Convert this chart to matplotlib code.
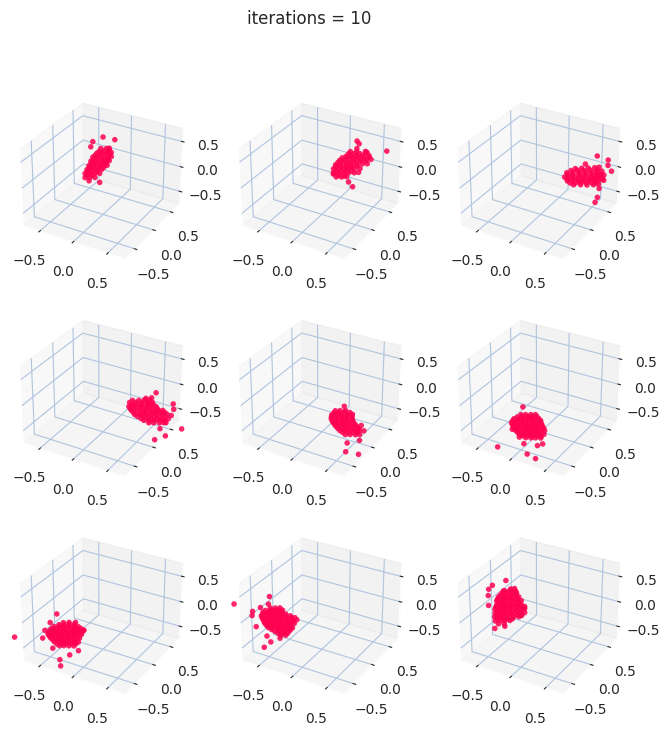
import matplotlib
matplotlib.use('Agg')
import matplotlib.pyplot as plt

# point clouds, one row per line, outliers last
# the depth along y can't be read from a flat picture so it stays at y_depth
x1 = [-.27, -.20, -.12,
      -.27, -.20, -.12, -.05,
      -.24, -.17, -.09, -.02,
      -.21, -.14, -.06, .02, .06,
      -.18, -.11, -.03, .05, .09,
      -.15, -.08, 0, .08, .12,
      -.09, -.02, .06, .12,
      -.03, .05, .09,
      0, .17, -.15, -.18, -.21, -.05]
z1 = [-.11, -.08, -.05,
      -.03, 0, .03, .06,
      .06, .09, .12, .15,
      .15, .18, .22, .25, .26,
      .25, .28, .31, .34, .36,
      .34, .37, .40, .43, .45,
      .44, .47, .50, .53,
      .55, .58, .60,
      .78, .79, .64, .53, -.15, -.12]
# the dense middle of each cloud, between the rows above
x1b = [-.235, -.16, -.235, -.16, -.085,
       -.205, -.13, -.055, .01,
       -.175, -.10, -.02, .04,
       -.145, -.07, .01, .07,
       -.115, -.04, .04, .10,
       -.055, .02, .09]
z1b = [-.055, -.025, .02, .05, .08,
       .11, .14, .17, .20,
       .21, .24, .27, .30,
       .30, .33, .36, .39,
       .39, .42, .46, .49,
       .49, .52, .56]

x2 = [.21, .29, .36,
      .17, .24, .32, .39, .47,
      .17, .24, .32, .39, .47, .55,
      .20, .27, .35, .42, .50, .58, .65,
      .26, .33, .41, .48, .56, .64, .70,
      .35, .42, .50, .58, .67,
      .41, .50, .62,
      .50, .53, .50, .91, .64, .53, .39, .45, .17]
z2 = [.09, .12, .15,
      .15, .18, .21, .24, .27,
      .23, .26, .29, .32, .35, .38,
      .32, .35, .38, .41, .44, .48, .51,
      .43, .46, .49, .52, .55, .58, .61,
      .54, .57, .60, .64, .67,
      .65, .68, .73,
      .88, .84, .74, .84, .72, .30, .06, -.01, .13]
x2b = [.25, .33,
       .205, .28, .355, .43,
       .205, .28, .355, .43, .51,
       .235, .31, .385, .46, .54, .615,
       .295, .37, .445, .52, .60, .67,
       .385, .46, .54, .625]
z2b = [.13, .16,
       .20, .23, .26, .29,
       .28, .31, .34, .37, .41,
       .38, .41, .44, .47, .51, .55,
       .49, .52, .55, .58, .61, .64,
       .60, .63, .66, .70]

x3 = [.48, .58, .67, .76, .83,
      .39, .47, .55, .62, .70, .77, .83, .88,
      .35, .42, .50, .58, .65, .73, .80, .85, .90,
      .38, .47, .56, .65, .74, .81, .87,
      .50, .59, .68, .77, .83,
      .80, .95, .95, 1.0, .90, .84, .82, .79, .64]
z3 = [.04, .08, .11, .15, .19,
      .08, .11, .14, .17, .21, .24, .27, .30,
      .14, .17, .20, .24, .27, .30, .33, .36, .39,
      .235, .27, .31, .35, .38, .42, .45,
      .36, .40, .44, .48, .51,
      .71, .69, .59, .50, .29, .11, -.07, -.18, .50]
x3b = [.43, .51, .585, .66, .735, .80,
       .385, .46, .54, .615, .69, .76, .83, .88,
       .39, .465, .55, .63, .71, .79, .86,
       .44, .53, .62, .71, .80]
z3b = [.056, .09, .12, .15, .18, .21,
       .118, .15, .18, .21, .24, .27, .30, .32,
       .20, .23, .27, .30, .33, .36, .39,
       .30, .34, .37, .41, .45]

x4 = [.62, .70,
      .39, .47, .56, .64, .71,
      .38, .45, .53, .61, .68, .76,
      .42, .50, .58, .65, .73, .80, .86,
      .47, .55, .62, .70, .77, .85, .92,
      .56, .64, .71, .79, .86, .94,
      .67, .74, .82, .91,
      .76, 1.0, 1.01, .98, 1.13, .83, .91, .76, .88]
z4 = [.17, .21,
      0, .03, .07, .10, .13,
      -.085, -.05, -.02, .01, .04, .07,
      -.15, -.12, -.08, -.05, -.02, .01, .03,
      -.21, -.18, -.15, -.11, -.08, -.05, -.02,
      -.25, -.22, -.19, -.16, -.13, -.10,
      -.29, -.26, -.23, -.19,
      .33, .21, .11, -.02, -.22, -.34, -.45, -.59, -.20]
x4b = [.43, .52, .60, .67,
       .42, .49, .57, .65, .72,
       .40, .47, .55, .63, .70, .78,
       .45, .54, .61, .69, .76, .83, .89,
       .51, .59, .66, .74, .81, .89,
       .60, .68, .75, .83, .90]
z4b = [.056, .09, .13, .155,
       -.03, 0, .03, .07, .10,
       -.12, -.09, -.05, -.02, .01, .04,
       -.18, -.14, -.11, -.08, -.05, -.02, 0,
       -.23, -.20, -.17, -.14, -.11, -.08,
       -.27, -.24, -.21, -.18, -.15]

x5 = [.20, .27, .35,
      .15, .23, .30, .38, .45,
      .14, .21, .29, .36, .44,
      .17, .24, .32, .39, .47,
      .21, .29, .36, .44, .52,
      .27, .35, .42, .50, .56,
      .35, .42, .50, .56,
      .33, .58, .62, .56, .38, .36, .55]
z5 = [-.24, -.21, -.18,
      -.34, -.31, -.28, -.25, -.21,
      -.42, -.39, -.36, -.33, -.30,
      -.49, -.46, -.43, -.40, -.37,
      -.55, -.52, -.49, -.46, -.43,
      -.61, -.58, -.55, -.52, -.49,
      -.66, -.63, -.60, -.57,
      -.10, -.38, -.47, -.69, -.82, -1.01, -.98]
x5b = [.18, .25, .33, .41,
       .145, .22, .295, .37, .445,
       .155, .225, .305, .375, .455,
       .19, .265, .34, .415, .495,
       .24, .32, .39, .47, .54,
       .31, .385, .46, .53]
z5b = [-.29, -.26, -.22, -.19,
       -.38, -.35, -.32, -.29, -.26,
       -.46, -.43, -.39, -.37, -.33,
       -.52, -.49, -.46, -.43, -.40,
       -.58, -.55, -.52, -.49, -.46,
       -.63, -.60, -.57, -.54]

x6 = [-.30, -.23, -.15, -.08,
      -.41, -.33, -.26, -.18, -.11, -.03,
      -.45, -.38, -.30, -.23, -.15, -.08, 0,
      -.42, -.35, -.27, -.20, -.12, -.05, .03,
      -.39, -.32, -.24, -.17, -.09, -.02, .06,
      -.33, -.26, -.18, -.11, -.03, .05,
      -.23, -.15, -.08, 0,
      -.68, -.21, -.08, -.27, -.33, -.26, -.05, .03, -.44]
z6 = [-.52, -.49, -.46, -.43,
      -.65, -.62, -.59, -.55, -.52, -.49,
      -.75, -.72, -.68, -.65, -.62, -.59, -.56,
      -.81, -.78, -.75, -.72, -.69, -.66, -.63,
      -.88, -.85, -.82, -.79, -.76, -.73, -.70,
      -.94, -.91, -.87, -.84, -.81, -.78,
      -.97, -.94, -.91, -.88,
      -1.36, -1.31, -1.35, -.35, -1.0, -1.11, -1.06, -.99, -.88]
x6b = [-.355, -.28, -.20, -.13, -.06,
       -.43, -.355, -.28, -.205, -.13, -.055, 0,
       -.435, -.365, -.285, -.215, -.135, -.065, .015,
       -.405, -.335, -.255, -.185, -.105, -.035, .045,
       -.36, -.29, -.21, -.14, -.06, .015,
       -.28, -.205, -.13, -.055, .01]
z6b = [-.59, -.55, -.52, -.49, -.46,
       -.70, -.67, -.63, -.60, -.57, -.54, -.52,
       -.78, -.75, -.72, -.69, -.66, -.63, -.59,
       -.85, -.82, -.78, -.76, -.72, -.69, -.66,
       -.91, -.88, -.85, -.82, -.78, -.75,
       -.95, -.92, -.89, -.86, -.84]

x7 = [-.61, -.52, -.42,
      -.76, -.68, -.61, -.53, -.45, -.38,
      -.83, -.76, -.68, -.61, -.53, -.45, -.38, -.30,
      -.86, -.79, -.71, -.64, -.56, -.48, -.41, -.33,
      -.82, -.74, -.67, -.59, -.52, -.44, -.36,
      -.76, -.68, -.61, -.53, -.45, -.38,
      -.68, -.61, -.53, -.45,
      -1.42, -.71, -.67, -.68, -.91, -.95, -.82, -.79, -.52, -.38, -.29]
z7 = [-.45, -.41, -.37,
      -.59, -.56, -.53, -.50, -.47, -.44,
      -.70, -.67, -.64, -.61, -.58, -.55, -.52, -.48,
      -.79, -.76, -.73, -.70, -.67, -.64, -.61, -.58,
      -.85, -.82, -.79, -.76, -.73, -.70, -.67,
      -.91, -.88, -.85, -.82, -.79, -.76,
      -.96, -.93, -.90, -.87,
      -1.08, -.31, -1.39, -1.26, -.73, -.91, -.53, -1.06, -1.09, -.94, -.48]
x7b = [-.68, -.60, -.52, -.44,
       -.80, -.72, -.64, -.57, -.49, -.41, -.34,
       -.85, -.77, -.70, -.62, -.55, -.47, -.39, -.32,
       -.84, -.76, -.69, -.62, -.54, -.46, -.38,
       -.79, -.71, -.64, -.56, -.48, -.41,
       -.72, -.64, -.57, -.49, -.42]
z7b = [-.52, -.49, -.45, -.42,
       -.65, -.62, -.58, -.55, -.52, -.49, -.46,
       -.75, -.72, -.69, -.65, -.63, -.59, -.56, -.53,
       -.82, -.79, -.76, -.73, -.70, -.67, -.64,
       -.88, -.85, -.82, -.79, -.76, -.73,
       -.94, -.90, -.87, -.84, -.81]

x8 = [-.79, -.71, -.64,
      -.91, -.83, -.76, -.68, -.61,
      -.94, -.86, -.79, -.71, -.64, -.56, -.48,
      -.91, -.83, -.76, -.68, -.61, -.53, -.45, -.38,
      -.88, -.80, -.73, -.65, -.58, -.50, -.42,
      -.83, -.76, -.68, -.61, -.53, -.45,
      -.73, -.65, -.58, -.50,
      -.64, -.56,
      -1.38, -1.08, -1.09, -.95, -.80, -1.03, -.91, -.80, -.86, -.65, -.82]
z8 = [-.22, -.19, -.16,
      -.35, -.32, -.29, -.26, -.23,
      -.44, -.41, -.38, -.35, -.32, -.29, -.26,
      -.51, -.48, -.45, -.42, -.39, -.36, -.33, -.30,
      -.58, -.55, -.52, -.49, -.46, -.42, -.39,
      -.64, -.61, -.58, -.55, -.52, -.49,
      -.68, -.65, -.62, -.58,
      -.72, -.69,
      -.36, -.40, -.49, -.27, .01, -.70, -1.09, -.93, -.83, -.79, -.15]
x8b = [-.87, -.79, -.72, -.65, -.60,
       -.92, -.845, -.775, -.695, -.625, -.55,
       -.925, -.845, -.775, -.695, -.625, -.545, -.465, -.41,
       -.895, -.815, -.745, -.665, -.595, -.515, -.435,
       -.855, -.78, -.705, -.63, -.555, -.475,
       -.78, -.69, -.615, -.54, -.475,
       -.68, -.60, -.53]
z8b = [-.30, -.26, -.24, -.21, -.19,
       -.40, -.37, -.34, -.30, -.28, -.25,
       -.48, -.45, -.42, -.38, -.36, -.32, -.29, -.27,
       -.55, -.51, -.49, -.45, -.42, -.39, -.36,
       -.61, -.58, -.55, -.52, -.49, -.45,
       -.66, -.62, -.59, -.56, -.53,
       -.70, -.67, -.64]

x9 = [-.45, -.39,
      -.58, -.50, -.42, -.36,
      -.64, -.56, -.48, -.41, -.33,
      -.67, -.59, -.52, -.44, -.36, -.29,
      -.67, -.59, -.52, -.44, -.36, -.29,
      -.70, -.62, -.55, -.47, -.39, -.32, -.24,
      -.70, -.62, -.55, -.47, -.39, -.32, -.24,
      -.71, -.64, -.56, -.48, -.41, -.33,
      -.70, -.62, -.55, -.47,
      -.65, -.56,
      -.52, -.73, -.79, -.80, -.80, -.71, -.55, -.26, -.29, -.56]
z9 = [.29, .32,
      .16, .20, .23, .25,
      .06, .09, .12, .15, .18,
      -.03, 0, .03, .06, .09, .12,
      -.11, -.08, -.05, -.02, .01, .04,
      -.21, -.17, -.14, -.11, -.08, -.05, -.02,
      -.29, -.25, -.22, -.19, -.16, -.13, -.10,
      -.37, -.34, -.31, -.28, -.25, -.22,
      -.45, -.41, -.38, -.35,
      -.49, -.45,
      .43, .26, .16, .03, -.17, -.61, -.50, -.03, -.18, .21]
x9b = [-.54, -.46, -.38,
       -.61, -.53, -.45, -.37,
       -.655, -.575, -.50, -.425, -.345,
       -.63, -.555, -.48, -.40, -.325,
       -.685, -.605, -.535, -.455, -.375, -.305, -.24,
       -.66, -.585, -.51, -.43, -.355, -.28,
       -.675, -.60, -.52, -.445, -.36, -.285,
       -.665, -.585, -.51, -.43]
z9b = [.22, .25, .28,
       .11, .14, .18, .21,
       .01, .04, .075, .11, .14,
       -.06, -.03, 0, .04, .07,
       -.16, -.13, -.10, -.07, -.03, 0, .02,
       -.23, -.20, -.17, -.14, -.11, -.07,
       -.32, -.29, -.25, -.22, -.19, -.16,
       -.39, -.36, -.33, -.30]

xs = [x1 + x1b, x2 + x2b, x3 + x3b, x4 + x4b, x5 + x5b, x6 + x6b, x7 + x7b, x8 + x8b, x9 + x9b]
zs = [z1 + z1b, z2 + z2b, z3 + z3b, z4 + z4b, z5 + z5b, z6 + z6b, z7 + z7b, z8 + z8b, z9 + z9b]
y_depth = 0.0
ticks = [-0.5, 0.0, 0.5]

plt.rcParams.update({
    'axes.edgecolor': 'white',
    'text.color': '.15',
    'xtick.color': '.15',
    'ytick.color': '.15',
    'grid.color': 'lightsteelblue',
})

fig = plt.figure(figsize=(8, 8))
fig.suptitle('iterations = 10')

for i in range(9):
    ax = fig.add_subplot(3, 3, i + 1, projection='3d')
    ax.scatter(xs[i], [y_depth] * len(xs[i]), zs[i], s=16, c='#ff0050', alpha=0.85, linewidths=0)
    ax.set_xlim(-0.75, 0.75)
    ax.set_ylim(-0.75, 0.75)
    ax.set_zlim(-0.75, 0.75)
    ax.set_xticks(ticks)
    ax.set_yticks(ticks)
    ax.set_zticks(ticks)

plt.savefig('out.png', dpi=100, bbox_inches='tight')
